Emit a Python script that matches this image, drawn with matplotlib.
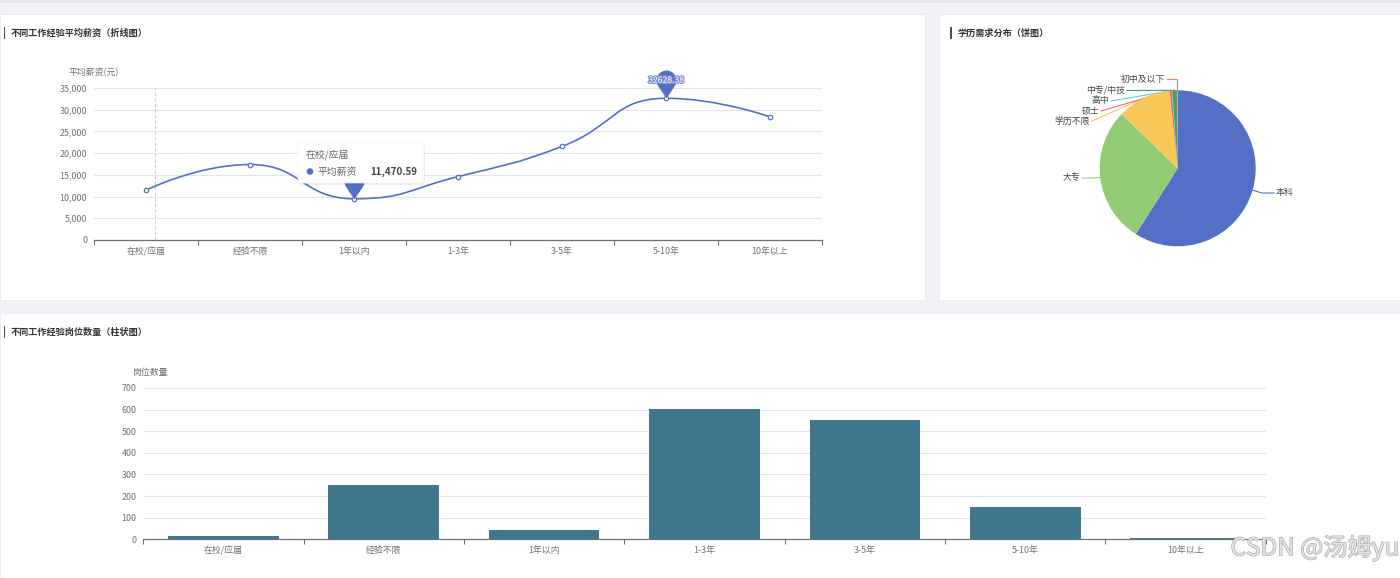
import numpy as np
import matplotlib; matplotlib.use("Agg")
import matplotlib.pyplot as plt
import matplotlib.patheffects as pe
from matplotlib.path import Path
from matplotlib.patches import PathPatch, Rectangle, FancyBboxPatch, Circle
from matplotlib.ticker import FuncFormatter, MultipleLocator

plt.rcParams['font.family'] = ['Noto Sans CJK SC', 'DejaVu Sans']

W, H = 1400, 578

# ---- data -------------------------------------------------------------------------------------
exp_cats = ["在校/应届", "经验不限", "1年以内", "1-3年", "3-5年", "5-10年", "10年以上"]
avg_salary = [11470.59, 17380, 9500, 14600, 21550, 32628.38, 28350]
job_counts = [17, 250, 43, 604, 552, 148, 6]
edu_cats = ["本科", "大专", "学历不限", "硕士", "高中", "中专/中技", "初中及以下"]
edu_counts = [957, 457, 180, 7, 2, 16, 2]

ECH = ["#5470c6", "#91cc75", "#fac858", "#ee6666", "#73c0de", "#3ba272", "#fc8452"]
AXC, GRID, TXT, BAR = "#6e7079", "#e0e6f1", "#333333", "#41768f"
FS = 6.4

fig = plt.figure(figsize=(W / 100, H / 100), dpi=100)
fig.patch.set_facecolor("#f0f2f5")

def box(l, t, w, h):
    return [l / W, 1 - (t + h) / H, w / W, h / H]

def overlay(z):
    a = fig.add_axes([0, 0, 1, 1], zorder=z)
    a.set_xlim(0, W); a.set_ylim(H, 0); a.axis("off")
    return a

bg = overlay(-10)
fg = overlay(20)

# ---- panels + titles ---------------------------------------------------------------------------
bg.add_patch(Rectangle((0, 0), W, 2.5, color="#e3e5e9", lw=0))
for l, t, w, h in [(0, 14, 925, 286), (939, 14, 461, 286), (0, 313, 1400, 265)]:
    bg.add_patch(Rectangle((l, t), w, h, fc="white", ec="#e9ebef", lw=0.6))
for bx, tx, ty, s in [(3.5, 11, 33, "不同工作经验平均薪资（折线图）"),
                      (950, 958, 33, "学历需求分布（饼图）"),
                      (3.5, 11, 332, "不同工作经验岗位数量（柱状图）")]:
    bg.add_patch(Rectangle((bx, ty - 6), 1.6, 12, color="#2f5468", lw=0))
    bg.text(tx, ty, s, fontsize=6.6, fontweight="bold", color=TXT, va="center", ha="left")

def style_cat_axis(ax, step):
    ax.set_xlim(-0.5, len(exp_cats) - 0.5)
    ax.yaxis.set_major_locator(MultipleLocator(step))
    ax.grid(axis="y", color=GRID, lw=0.8)
    ax.set_axisbelow(True)
    for s in ["top", "right", "left"]:
        ax.spines[s].set_visible(False)
    ax.spines["bottom"].set_color(AXC); ax.spines["bottom"].set_linewidth(0.9)
    ax.set_xticks(np.arange(len(exp_cats)))
    ax.set_xticklabels(exp_cats)
    ax.set_xticks(np.arange(-0.5, len(exp_cats)), minor=True)
    ax.tick_params(axis="both", which="major", length=0, labelsize=FS, labelcolor=AXC, pad=5)
    ax.tick_params(axis="x", which="minor", length=3.5, color=AXC, width=0.8)
    ax.patch.set_alpha(0)

# ---- line chart --------------------------------------------------------------------------------
ax1 = fig.add_axes(box(94, 88, 728, 152))
style_cat_axis(ax1, 5000)
ax1.set_ylim(0, 35000)
ax1.yaxis.set_major_formatter(FuncFormatter(lambda v, p: f"{v:,.0f}"))
bg.text(94, 73, "平均薪资(元)", fontsize=FS, color=AXC, ha="center", va="center")

def smooth_path(xs, ys, s=0.5):
    pts = np.column_stack([xs, ys]).astype(float)
    n = len(pts); cin, cout = [], []
    for i in range(n):
        p = pts[i]
        if i in (0, n - 1):
            cin.append(p); cout.append(p); continue
        v = pts[i + 1] - pts[i - 1]
        if (pts[i, 1] - pts[i - 1, 1]) * (pts[i + 1, 1] - pts[i, 1]) <= 0:
            v[1] = 0
        d0 = pts[i, 0] - pts[i - 1, 0]; d1 = pts[i + 1, 0] - pts[i, 0]
        cin.append(p - v * s * d0 / (d0 + d1)); cout.append(p + v * s * d1 / (d0 + d1))
    verts, codes = [pts[0]], [Path.MOVETO]
    for i in range(n - 1):
        verts += [cout[i], cin[i + 1], pts[i + 1]]; codes += [Path.CURVE4] * 3
    return Path(verts, codes)

xs = np.arange(len(exp_cats))
ax1.axvline(0.09, color="#cfcfcf", lw=0.8, ls=(0, (3, 2)), zorder=1)
ax1.add_patch(PathPatch(smooth_path(xs, avg_salary, 0.5), fc="none", ec=ECH[0], lw=1.2, zorder=3))
ax1.plot(xs, avg_salary, ls="none", marker="o", ms=3.2, mfc="white", mec=ECH[0], mew=0.9, zorder=4)

# pin markers (max / min)
r, hgt = 1.0, 1.8
a = np.arccos(r / hgt)
ang = np.linspace(-np.pi / 2 + a, 3 * np.pi / 2 - a, 40)
pin_verts = [(0, 0)] + [(r * np.cos(t), hgt + r * np.sin(t)) for t in ang] + [(0, 0)]
pin = Path(pin_verts)
imax, imin = int(np.argmax(avg_salary)), int(np.argmin(avg_salary))
for i in (imax, imin):
    ax1.plot(xs[i], avg_salary[i], marker=pin, ms=40.3, color=ECH[0], mec="none", zorder=5, clip_on=False)
ax1.annotate(f"{avg_salary[imax]:.2f}", (xs[imax], avg_salary[imax]), xytext=(0, 18 * 0.72),
             textcoords="offset points", ha="center", va="center", fontsize=6.2, color="white",
             zorder=6, annotation_clip=False,
             path_effects=[pe.withStroke(linewidth=1.6, foreground="#7b90d6")])

# tooltip
fg.add_patch(FancyBboxPatch((299, 144), 126, 41, boxstyle="round,pad=0,rounding_size=4",
                            fc="black", ec="none", alpha=0.07))
fg.add_patch(FancyBboxPatch((298, 142), 126, 41, boxstyle="round,pad=0,rounding_size=4",
                            fc="white", ec="#f2f2f2", lw=0.5))
fg.text(306, 154.5, exp_cats[0], fontsize=7.1, color="#666666", va="center", ha="left")
fg.add_patch(Circle((310, 171.5), 3.3, color=ECH[0], lw=0))
fg.text(318, 171.5, "平均薪资", fontsize=7.1, color="#666666", va="center", ha="left")
fg.text(417, 171.5, f"{avg_salary[0]:,.2f}", fontsize=7.1, color="#464646", fontweight="bold",
        va="center", ha="right")

# ---- bar chart ---------------------------------------------------------------------------------
ax2 = fig.add_axes(box(143.3, 388, 1122.4, 151.3))
style_cat_axis(ax2, 100)
ax2.set_ylim(0, 700)
ax2.bar(xs, job_counts, width=0.69, color=BAR, zorder=3)
bg.text(150, 373, "岗位数量", fontsize=FS, color=AXC, ha="center", va="center")

# ---- pie chart ---------------------------------------------------------------------------------
PCX, PCY, PR = 1177.7, 168.3, 78
ax3 = fig.add_axes(box(PCX - 150, PCY - 120, 300, 240))
wedges, _ = ax3.pie(edu_counts, colors=ECH, startangle=90, counterclock=False, radius=PR,
                    center=(0, 0), wedgeprops=dict(lw=0, zorder=2))
ax3.set_xlim(-150, 150); ax3.set_ylim(-120, 120); ax3.set_aspect("equal"); ax3.axis("off")

# label anchor (figure px), alignment, optional elbow (figure px)
lab_layout = [((1276, 193), "left", (1262, 193)),
              ((1080, 178), "right", (1094, 178)),
              ((1090, 121), "right", None),
              ((1099, 111), "right", None),
              ((1109, 101), "right", None),
              ((1125, 90.5), "right", None),
              ((1165, 79), "right", "up")]
def pc(x, y):
    return x - PCX, PCY - y
for w, name, col, (anc, ha, elb) in zip(wedges, edu_cats, ECH, lab_layout):
    mid = np.deg2rad((w.theta1 + w.theta2) / 2)
    ex, ey = PR * np.cos(mid), PR * np.sin(mid)
    lx, ly = pc(*anc)
    end = lx - 2 if ha == "left" else lx + 2
    if elb == "up":
        pts = [(ex, ey), (ex, ly), (end, ly)]
    elif elb is None:
        pts = [(ex, ey), (end, ly)]
    else:
        pts = [(ex, ey), pc(*elb), (end, ly)]
    px_, py_ = zip(*pts)
    ax3.plot(px_, py_, color=col, lw=0.8, zorder=1, clip_on=False)
    ax3.text(lx, ly, name, fontsize=FS, color="#444444", ha=ha, va="center", clip_on=False)

# ---- watermark ---------------------------------------------------------------------------------
fg.text(1399, 548, "CSDN @汤姆yu", fontsize=17.5, color="#e2e2e2", ha="right", va="center",
        path_effects=[pe.withStroke(linewidth=0.9, foreground="#a9a9a9")])

fig.savefig("out.png", dpi=100)
